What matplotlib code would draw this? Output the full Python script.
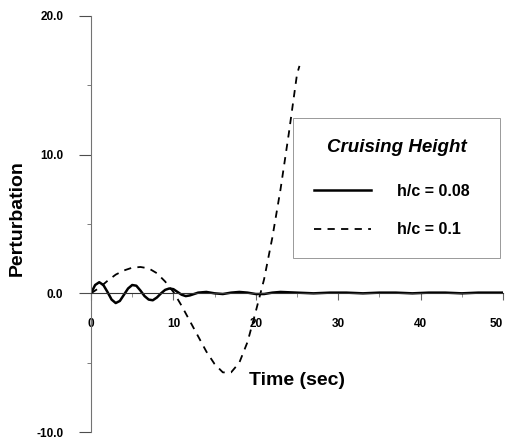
import matplotlib.pyplot as plt
from matplotlib.ticker import MultipleLocator, FormatStrFormatter

# h/c = 0.08 (solid), damped oscillation
t_low = [0, 0.5, 1.0, 1.5, 2.0, 2.5, 3.0, 3.5, 4.0, 4.5, 5.0, 5.5, 6.0, 6.5,
         7.0, 7.5, 8.0, 8.5, 9.0, 9.5, 10.0, 10.5, 11.0, 11.5, 12.0, 12.5,
         13.0, 14.0, 15.0, 16.0, 17.0, 18.0, 19.0, 20.0, 21.0, 22.0, 23.0,
         25.0, 27.0, 29.0, 31.0, 33.0, 35.0, 37.0, 39.0, 41.0, 43.0, 45.0,
         47.0, 50.0]
p_low = [0, 0.6, 0.8, 0.6, 0.1, -0.45, -0.7, -0.55, -0.1, 0.35, 0.6, 0.55,
         0.2, -0.2, -0.45, -0.5, -0.3, 0.0, 0.25, 0.35, 0.3, 0.1, -0.1, -0.2,
         -0.15, -0.05, 0.05, 0.1, 0.0, -0.05, 0.05, 0.1, 0.05, -0.05, -0.05,
         0.05, 0.1, 0.05, 0.0, 0.05, 0.05, 0.0, 0.05, 0.05, 0.0, 0.05, 0.05,
         0.0, 0.05, 0.05]

# h/c = 0.1 (dashed), diverging
t_high = [0, 1, 2, 3, 4, 5, 6, 7, 8, 9, 10, 11, 12, 13, 14, 15, 16, 17, 18,
          19, 20, 21, 22, 23, 24, 25, 25.3]
p_high = [0, 0.4, 0.9, 1.35, 1.65, 1.85, 1.9, 1.8, 1.45, 0.85, 0.1, -0.9,
          -2.0, -3.1, -4.2, -5.1, -5.7, -5.7, -5.0, -3.5, -1.3, 1.0, 4.0,
          7.5, 11.5, 15.8, 16.4]

labels = ["h/c = 0.08", "h/c = 0.1"]
x_ticks = [0, 10, 20, 30, 40, 50]

plt.rcParams['font.family'] = ['Liberation Sans', 'DejaVu Sans']
plt.rcParams['font.weight'] = 'bold'

fig = plt.figure(figsize=(5.07, 4.4), dpi=100)
ax = fig.add_axes([91 / 507, 8 / 440, 412 / 507, 416 / 440])

ax.plot(t_low, p_low, color='black', lw=1.8, label=labels[0])
ax.plot(t_high, p_high, color='black', lw=1.3, linestyle=(0, (4, 3.5)),
        label=labels[1])

ax.set_xlim(0, 50)
ax.set_ylim(-10, 20)

for s in ['top', 'right']:
    ax.spines[s].set_visible(False)
ax.spines['bottom'].set_position(('data', 0))
ax.spines['bottom'].set_color('0.2')
ax.spines['left'].set_color('0.45')
ax.spines['left'].set_linewidth(0.8)

ax.set_xticks(x_ticks)
ax.xaxis.set_minor_locator(MultipleLocator(5))
ax.yaxis.set_major_locator(MultipleLocator(10))
ax.yaxis.set_minor_locator(MultipleLocator(5))
ax.yaxis.set_major_formatter(FormatStrFormatter('%.1f'))

ax.tick_params(axis='y', which='major', length=9, width=0.8, color='0.3',
               pad=11, labelsize=8.5)
ax.tick_params(axis='y', which='minor', length=3, width=0.6, color='0.4')
ax.tick_params(axis='x', which='major', length=5, width=0.8, color='0.4',
               pad=13, labelsize=8.5)
ax.tick_params(axis='x', which='minor', length=3, width=0.6, color='0.5')

# last x label sits on the figure edge; keep it inside
ax.xaxis.get_major_ticks()[-1].label1.set_horizontalalignment('right')

fig.text(17 / 507, 1 - 218 / 440, 'Perturbation', rotation=90, ha='center',
         va='center', fontsize=14, fontweight='bold')
fig.text(297 / 507, 1 - 380 / 440, 'Time (sec)', ha='center', va='center',
         fontsize=14, fontweight='bold')

leg = ax.legend(loc='upper left', bbox_to_anchor=(293 / 507, 1 - 118 / 440,
                                                  207 / 507, 0.0),
                bbox_transform=fig.transFigure, mode='expand',
                title='Cruising Height', fontsize=11.5, handlelength=3.6,
                handletextpad=1.6, labelspacing=1.5, borderpad=1.3,
                fancybox=False, framealpha=1, borderaxespad=0)
leg.get_frame().set_edgecolor('0.6')
leg.get_frame().set_linewidth(0.7)
title = leg.get_title()
title.set_fontsize(13.5)
title.set_fontstyle('italic')
title.set_fontweight('bold')
leg._legend_box.sep = 20
for txt in leg.get_texts():
    txt.set_fontweight('bold')

fig.savefig('out.png', dpi=100)
